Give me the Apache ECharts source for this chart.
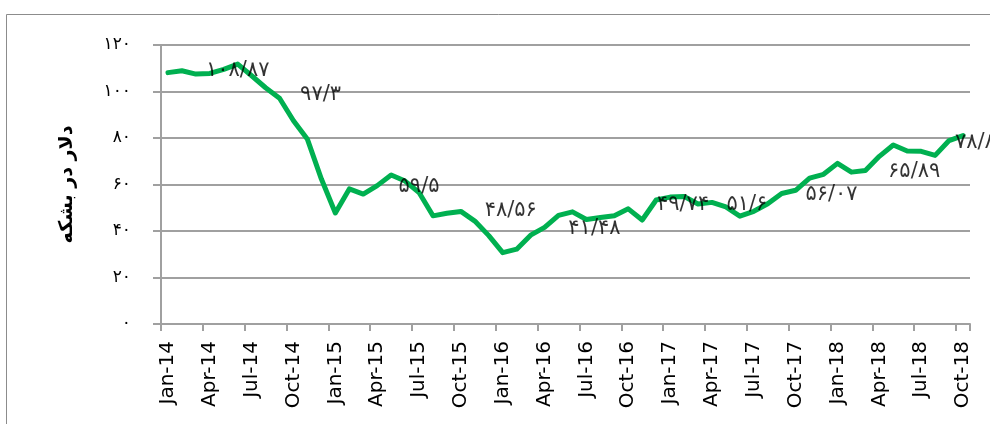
<!DOCTYPE html>
<html><head><meta charset="utf-8">
<script src="https://cdn.jsdelivr.net/npm/echarts@6/dist/echarts.min.js"></script>
<style>html,body{margin:0;padding:0;background:#fff}#c{width:990px;height:424px}</style>
</head><body><div id="c"></div>
<script>
const categories = [
 'Jan-14','Feb-14','Mar-14','Apr-14','May-14','Jun-14','Jul-14','Aug-14','Sep-14','Oct-14','Nov-14','Dec-14',
 'Jan-15','Feb-15','Mar-15','Apr-15','May-15','Jun-15','Jul-15','Aug-15','Sep-15','Oct-15','Nov-15','Dec-15',
 'Jan-16','Feb-16','Mar-16','Apr-16','May-16','Jun-16','Jul-16','Aug-16','Sep-16','Oct-16','Nov-16','Dec-16',
 'Jan-17','Feb-17','Mar-17','Apr-17','May-17','Jun-17','Jul-17','Aug-17','Sep-17','Oct-17','Nov-17','Dec-17',
 'Jan-18','Feb-18','Mar-18','Apr-18','May-18','Jun-18','Jul-18','Aug-18','Sep-18','Oct-18'
];
const prices2014 = [108.12,108.90,107.48,107.76,109.54,111.80,106.77,101.61,97.09,87.43,79.44,62.34];
const prices2015 = [47.76,58.10,55.89,59.52,64.08,61.48,56.56,46.52,47.62,48.43,44.27,38.01];
const prices2016 = [30.70,32.18,38.21,41.58,46.74,48.25,44.95,45.84,46.57,49.52,44.73,53.31];
const prices2017 = [54.58,54.87,51.59,52.31,50.33,46.37,48.48,51.70,56.15,57.51,62.71,64.37];
const prices2018 = [69.08,65.32,66.02,72.11,76.98,74.41,74.25,72.53,78.89,81.03];
const prices = [].concat(prices2014, prices2015, prices2016, prices2017, prices2018);

const yTickValues = [0, 20, 40, 60, 80, 100, 120];
const yAxisTitle = 'دلار در بشکه';

const annotationMonth = ['Jun-14','Sep-14','Jul-15','Jan-16','Jul-16','Feb-17','Jun-17','Jan-18','Jul-18','Sep-18'];
const annotationText = ['۱۰۸/۸۷','۹۷/۳','۵۹/۵','۴۸/۵۶','۴۱/۴۸','۴۹/۷۴','۵۱/۶','۵۶/۰۷','۶۵/۸۹','۷۸/۸۹'];

// layout only: label offsets (px) relative to the annotated point
const annotationOffset = [[0,6],[41,-4],[0,-6],[8,-42],[8,9],[-1,8],[7,-12],[-6,31],[-7,20],[32,2]];

const fa = s => String(s).replace(/[0-9]/g, d => '۰۱۲۳۴۵۶۷۸۹'[d]);

const annData = annotationMonth.map((m, k) => {
  const i = categories.indexOf(m);
  return {
    value: [i, prices[i]],
    label: { show: true, position: 'inside', offset: annotationOffset[k], formatter: annotationText[k] }
  };
});

const chart = echarts.init(document.getElementById('c'), null, {renderer: 'canvas'});
chart.setOption({
  animation: false,
  backgroundColor: '#fff',
  graphic: [{
    type: 'rect', left: 4, top: 12, z: -1,
    shape: {width: 1100, height: 600},
    style: {fill: 'none', stroke: '#8c8c8c', lineWidth: 1}
  }],
  grid: {left: 161, right: 20, top: 45, bottom: 100, containLabel: false},
  xAxis: {
    type: 'category',
    data: categories,
    boundaryGap: true,
    axisLine: {lineStyle: {color: '#a0a0a0', width: 2}},
    axisTick: {show: true, interval: 2, length: 7, lineStyle: {color: '#a0a0a0', width: 2}},
    axisLabel: {interval: 2, rotate: 90, margin: 17, color: '#000', fontFamily: 'DejaVu Sans', fontSize: 20}
  },
  yAxis: {
    type: 'value', min: 0, max: 120, interval: 20,
    name: yAxisTitle, nameLocation: 'middle', nameRotate: 90, nameGap: 84,
    nameTextStyle: {fontFamily: 'DejaVu Sans', fontWeight: 'bold', fontSize: 19, color: '#000'},
    axisLine: {show: true, lineStyle: {color: '#a0a0a0', width: 2}},
    axisTick: {show: true, length: 8, lineStyle: {color: '#a0a0a0', width: 2}},
    splitLine: {lineStyle: {color: '#a0a0a0', width: 2}},
    axisLabel: {margin: 30, color: '#000', fontFamily: 'DejaVu Sans', fontSize: 17,
      formatter: v => fa(v)}
  },
  series: [{
    type: 'line',
    data: prices,
    showSymbol: false,
    symbol: 'none',
    lineStyle: {color: '#00b050', width: 5, join: 'round', cap: 'round'},
    z: 2
  }, {
    type: 'scatter',
    data: annData,
    symbolSize: 0,
    z: 3,
    label: {color: '#000', fontFamily: 'DejaVu Sans', fontSize: 21}
  }]
});
</script></body></html>
